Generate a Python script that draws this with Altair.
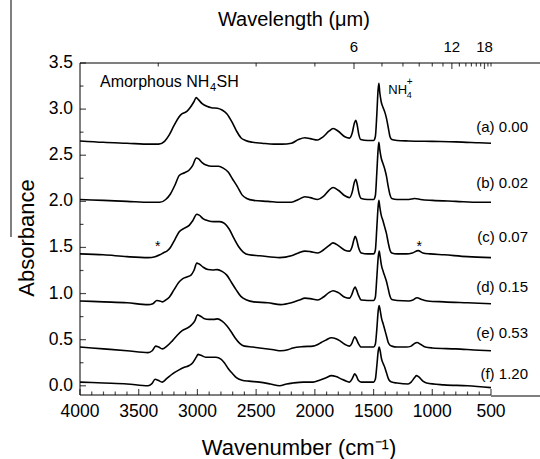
import altair as alt
import pandas as pd

# ---------------------------------------------------------------------------
# Spectra: wavenumber (cm^-1) and absorbance
# ---------------------------------------------------------------------------
wn_a = [4000, 3800, 3600, 3400, 3330, 3280, 3240, 3200, 3160, 3130, 3090, 3060, 3030,
        3010, 2990, 2960, 2920, 2880, 2830, 2790, 2750, 2710, 2670, 2630, 2590, 2530,
        2450, 2350, 2280, 2200, 2140, 2085, 2040, 1975, 1930, 1880, 1845, 1800, 1745,
        1705, 1682, 1665, 1652, 1640, 1625, 1610, 1550, 1500, 1485, 1472, 1462, 1455,
        1447, 1435, 1420, 1405, 1390, 1375, 1360, 1345, 1300, 1200, 1000, 800, 600, 500]
abs_a = [2.655, 2.64, 2.63, 2.62, 2.62, 2.65, 2.72, 2.82, 2.91, 2.95, 2.975, 3.02, 3.08,
         3.125, 3.10, 3.06, 3.03, 3.015, 3.01, 2.99, 2.95, 2.87, 2.77, 2.69, 2.66, 2.64,
         2.63, 2.62, 2.62, 2.63, 2.67, 2.69, 2.68, 2.665, 2.70, 2.76, 2.79, 2.76, 2.70,
         2.685, 2.74, 2.84, 2.88, 2.83, 2.72, 2.67, 2.66, 2.66, 2.70, 2.95, 3.20, 3.28,
         3.18, 3.08, 3.02, 2.97, 2.90, 2.80, 2.70, 2.67, 2.66, 2.655, 2.65, 2.645, 2.635, 2.63]

wn_b = [4000, 3800, 3600, 3400, 3320, 3270, 3230, 3190, 3155, 3110, 3070, 3040, 3010,
        2990, 2960, 2920, 2880, 2820, 2780, 2740, 2700, 2660, 2620, 2580, 2520, 2400,
        2290, 2200, 2140, 2085, 2040, 1975, 1930, 1880, 1845, 1800, 1745, 1705, 1682,
        1665, 1652, 1640, 1625, 1605, 1550, 1500, 1485, 1472, 1462, 1455, 1447, 1435,
        1420, 1405, 1390, 1375, 1360, 1345, 1300, 1200, 1150, 1100, 1000, 800, 600, 500]
abs_b = [2.02, 2.01, 2.00, 1.99, 1.99, 2.02, 2.08, 2.18, 2.28, 2.31, 2.34, 2.39, 2.47,
         2.46, 2.42, 2.39, 2.38, 2.38, 2.36, 2.32, 2.24, 2.16, 2.07, 2.03, 2.01, 2.00,
         1.99, 1.99, 2.02, 2.05, 2.04, 2.02, 2.05, 2.12, 2.15, 2.12, 2.06, 2.04, 2.10,
         2.20, 2.24, 2.19, 2.09, 2.03, 2.02, 2.02, 2.06, 2.32, 2.55, 2.64, 2.56, 2.47,
         2.41, 2.35, 2.27, 2.16, 2.07, 2.03, 2.02, 2.02, 2.03, 2.02, 2.01, 2.00, 1.99, 1.99]

wn_c = [4000, 3800, 3600, 3420, 3360, 3320, 3285, 3260, 3230, 3190, 3155, 3110, 3070,
        3040, 3005, 2985, 2950, 2910, 2860, 2810, 2770, 2730, 2690, 2650, 2610, 2560,
        2470, 2300, 2200, 2140, 2085, 2040, 1975, 1930, 1880, 1845, 1800, 1745, 1705,
        1685, 1668, 1657, 1645, 1628, 1605, 1550, 1500, 1485, 1472, 1462, 1455, 1447,
        1435, 1420, 1405, 1390, 1375, 1360, 1345, 1300, 1220, 1170, 1120, 1080, 1020,
        900, 700, 500]
abs_c = [1.43, 1.42, 1.40, 1.39, 1.40, 1.42, 1.445, 1.46, 1.50, 1.59, 1.67, 1.71, 1.74,
         1.79, 1.86, 1.85, 1.81, 1.79, 1.78, 1.78, 1.76, 1.70, 1.60, 1.51, 1.45, 1.42,
         1.41, 1.39, 1.41, 1.44, 1.46, 1.455, 1.44, 1.47, 1.52, 1.55, 1.52, 1.47, 1.46,
         1.50, 1.58, 1.62, 1.59, 1.50, 1.44, 1.43, 1.43, 1.47, 1.72, 1.93, 2.01, 1.94,
         1.85, 1.79, 1.72, 1.65, 1.55, 1.47, 1.44, 1.43, 1.43, 1.44, 1.465, 1.44, 1.43,
         1.42, 1.40, 1.39]

wn_d = [4000, 3800, 3600, 3420, 3380, 3345, 3320, 3297, 3270, 3240, 3200, 3160, 3127,
        3090, 3055, 3030, 3005, 2985, 2950, 2910, 2870, 2830, 2790, 2750, 2710, 2670,
        2630, 2580, 2520, 2400, 2290, 2200, 2130, 2085, 2040, 1975, 1930, 1880, 1845,
        1800, 1745, 1705, 1685, 1668, 1657, 1645, 1628, 1605, 1550, 1500, 1485, 1472,
        1460, 1452, 1444, 1432, 1418, 1405, 1390, 1375, 1360, 1345, 1300, 1200, 1165,
        1130, 1090, 1040, 900, 700, 500]
abs_d = [0.92, 0.91, 0.90, 0.88, 0.89, 0.925, 0.92, 0.91, 0.93, 0.96, 1.04, 1.12, 1.16,
         1.18, 1.20, 1.25, 1.33, 1.32, 1.285, 1.26, 1.255, 1.26, 1.24, 1.20, 1.12, 1.04,
         0.97, 0.93, 0.91, 0.90, 0.88, 0.90, 0.93, 0.95, 0.945, 0.93, 0.96, 1.01, 1.03,
         1.01, 0.96, 0.95, 0.99, 1.05, 1.07, 1.04, 0.98, 0.93, 0.925, 0.925, 0.96, 1.18,
         1.40, 1.46, 1.40, 1.30, 1.24, 1.19, 1.13, 1.05, 0.97, 0.935, 0.925, 0.92, 0.93,
         0.955, 0.935, 0.92, 0.91, 0.90, 0.89]

wn_e = [4000, 3800, 3600, 3420, 3385, 3355, 3330, 3300, 3260, 3212, 3170, 3127, 3080,
        3050, 3020, 3000, 2980, 2945, 2900, 2860, 2830, 2790, 2750, 2710, 2680, 2640,
        2600, 2530, 2470, 2350, 2290, 2230, 2187, 2100, 2016, 1980, 1945, 1900, 1860,
        1820, 1789, 1745, 1705, 1685, 1670, 1660, 1648, 1630, 1605, 1550, 1500, 1485,
        1472, 1460, 1452, 1444, 1432, 1418, 1405, 1390, 1375, 1360, 1345, 1300, 1220,
        1180, 1150, 1130, 1100, 1060, 1000, 800, 600, 500]
abs_e = [0.42, 0.40, 0.38, 0.36, 0.38, 0.43, 0.42, 0.40, 0.43, 0.49, 0.55, 0.60, 0.63,
         0.66, 0.71, 0.77, 0.76, 0.73, 0.72, 0.72, 0.725, 0.70, 0.65, 0.58, 0.52, 0.46,
         0.43, 0.42, 0.41, 0.39, 0.38, 0.39, 0.41, 0.425, 0.43, 0.445, 0.47, 0.50, 0.52,
         0.51, 0.49, 0.45, 0.43, 0.46, 0.51, 0.53, 0.51, 0.46, 0.42, 0.42, 0.42, 0.45,
         0.62, 0.82, 0.87, 0.82, 0.73, 0.67, 0.61, 0.54, 0.47, 0.44, 0.43, 0.42, 0.42,
         0.43, 0.46, 0.47, 0.45, 0.42, 0.41, 0.40, 0.385, 0.38]

wn_f = [4000, 3800, 3600, 3420, 3390, 3360, 3335, 3300, 3260, 3212, 3160, 3112, 3070,
        3040, 3010, 2995, 2970, 2930, 2880, 2842, 2800, 2771, 2740, 2700, 2671, 2620,
        2560, 2472, 2380, 2300, 2240, 2187, 2100, 2016, 1960, 1900, 1860, 1820, 1770,
        1731, 1705, 1685, 1670, 1661, 1648, 1630, 1605, 1550, 1500, 1485, 1472, 1460,
        1452, 1444, 1432, 1418, 1405, 1390, 1375, 1360, 1345, 1300, 1206, 1180, 1150,
        1134, 1110, 1080, 1049, 900, 700, 500]
abs_f = [0.04, 0.03, 0.02, 0.00, 0.02, 0.07, 0.06, 0.04, 0.08, 0.13, 0.17, 0.20, 0.22,
         0.25, 0.31, 0.34, 0.33, 0.31, 0.31, 0.31, 0.29, 0.25, 0.19, 0.13, 0.09, 0.06,
         0.05, 0.04, 0.02, 0.00, 0.02, 0.03, 0.04, 0.04, 0.06, 0.09, 0.11, 0.10, 0.07,
         0.05, 0.04, 0.07, 0.11, 0.13, 0.11, 0.06, 0.04, 0.04, 0.04, 0.07, 0.22, 0.38,
         0.42, 0.38, 0.29, 0.24, 0.20, 0.14, 0.08, 0.05, 0.04, 0.03, 0.02, 0.04, 0.09,
         0.11, 0.09, 0.05, 0.03, 0.01, 0.00, -0.02]

spectrum_ids = ["a", "b", "c", "d", "e", "f"]
spectrum_labels = ["(a) 0.00", "(b) 0.02", "(c) 0.07", "(d) 0.15", "(e) 0.53", "(f) 1.20"]
label_wn = [185, 185, 185, 185, 185, 185]
label_abs = [2.806, 2.202, 1.617, 1.068, 0.575, 0.127]

# asterisks marking features in spectrum (c)
star_wn = [3338, 1111]
star_abs = [1.46, 1.46]

# axis tick values
x_major = [500, 1000, 1500, 2000, 2500, 3000, 3500, 4000]
x_minor = [v for v in range(500, 4001, 100) if v % 500]
y_major = [0.0, 0.5, 1.0, 1.5, 2.0, 2.5, 3.0, 3.5]
y_minor = [0.25, 0.75, 1.25, 1.75, 2.25, 2.75, 3.25]
um_major = [6, 12, 18]
um_minor = [3, 4, 5, 7, 8, 9, 10, 11, 13, 14, 15, 16, 17, 19, 20]

# axis titles
x_title = "Wavenumber (cm\u207b\u00b9)"
y_title = "Absorbance"
top_title = "Wavelength (\u03bcm)"

# ---------------------------------------------------------------------------
W, H = 411, 332
FONT = "Liberation Sans"
X_MIN, X_MAX = 500, 4000
Y_MIN, Y_MAX = -0.1, 3.5
X_SCALE = alt.Scale(domain=[X_MIN, X_MAX], reverse=True, nice=False, zero=False)
Y_SCALE = alt.Scale(domain=[Y_MIN, Y_MAX], nice=False, zero=False)
MAJOR, MINOR = 6, 3.5


def um_to_wn(um):
    return 10000.0 / um


series = {
    "a": (wn_a, abs_a), "b": (wn_b, abs_b), "c": (wn_c, abs_c),
    "d": (wn_d, abs_d), "e": (wn_e, abs_e), "f": (wn_f, abs_f),
}
rows = []
for sid in spectrum_ids:
    wns, vals = series[sid]
    for i, (w, v) in enumerate(zip(wns, vals)):
        rows.append({"spectrum": sid, "idx": i, "wn": w, "absorbance": v})
spectra = pd.DataFrame(rows)

# every layer shares these scales; the axes are drawn as marks below
X_ENC = alt.X("wn:Q", scale=X_SCALE, axis=None)
Y_ENC = alt.Y("absorbance:Q", scale=Y_SCALE, axis=None)

lines = alt.Chart(spectra).mark_line(
    color="black", strokeWidth=1.6, interpolate="monotone"
).encode(x=X_ENC, y=Y_ENC, detail="spectrum:N", order="idx:Q")


# inward-pointing tick marks: each sits on a plot edge and is shifted inward
def x_ticks(values, edge, size):
    at = Y_MIN if edge == "bottom" else Y_MAX
    df = pd.DataFrame({"wn": [float(v) for v in values], "absorbance": at})
    shift = -size / 2 if edge == "bottom" else size / 2
    return alt.Chart(df).mark_tick(
        color="black", orient="vertical", size=size, thickness=1.2, yOffset=shift
    ).encode(x=X_ENC, y=Y_ENC)


def y_ticks(values, size):
    df = pd.DataFrame({"wn": float(X_MAX), "absorbance": [float(v) for v in values]})
    return alt.Chart(df).mark_tick(
        color="black", orient="horizontal", size=size, thickness=1.2, xOffset=size / 2
    ).encode(x=X_ENC, y=Y_ENC)


ticks = [
    x_ticks(x_major, "bottom", MAJOR),
    x_ticks(x_minor, "bottom", MINOR),
    x_ticks([um_to_wn(u) for u in um_major], "top", MAJOR),
    x_ticks([um_to_wn(u) for u in um_minor], "top", MINOR),
    y_ticks(y_major, MAJOR),
    y_ticks(y_minor, MINOR),
]


def text_layer(df, size, align="left", baseline="alphabetic", dx=0, dy=0, angle=0):
    return alt.Chart(df).mark_text(
        align=align, baseline=baseline, fontSize=size, font=FONT,
        color="black", dx=dx, dy=dy, angle=angle
    ).encode(x=X_ENC, y=Y_ENC, text="text:N")


# axis lines (bottom, left) and top border
frame = alt.Chart(pd.DataFrame({"k": [0]})).mark_rule(color="black", strokeWidth=1)
axis_lines = [
    frame.encode(x=alt.value(0), x2=alt.value(W), y=alt.value(H)),
    frame.encode(x=alt.value(0), y=alt.value(0), y2=alt.value(H)),
    frame.encode(x=alt.value(0), x2=alt.value(W + 49), y=alt.value(0)),
]
# thin frame lines bordering the panel
frame_lines = [
    frame.encode(x=alt.value(-69), y=alt.value(-63), y2=alt.value(174)),
    frame.encode(x=alt.value(W), x2=alt.value(W + 49), y=alt.value(H + 1)),
]

# tick labels
bottom_labels = text_layer(
    pd.DataFrame({"wn": x_major, "absorbance": Y_MIN, "text": [str(v) for v in x_major]}),
    17.5, align="center", baseline="middle", dy=16.5)
left_labels = text_layer(
    pd.DataFrame({"wn": float(X_MAX), "absorbance": y_major,
                  "text": [f"{v:.1f}" for v in y_major]}),
    17.5, align="right", baseline="middle", dx=-7)
top_labels = text_layer(
    pd.DataFrame({"wn": [um_to_wn(u) for u in um_major], "absorbance": Y_MAX,
                  "text": [str(u) for u in um_major]}),
    15, align="center", dy=-11)

# axis titles
titles = [
    text_layer(pd.DataFrame({"wn": [2135.0], "absorbance": [Y_MIN], "text": [x_title]}),
               22, align="center", dy=60),
    text_layer(pd.DataFrame({"wn": [4392.0], "absorbance": [1.603], "text": [y_title]}),
               22, align="center", angle=270),
    text_layer(pd.DataFrame({"wn": [2178.0], "absorbance": [Y_MAX], "text": [top_title]}),
               20, align="center", dy=-37),
]

labels = text_layer(
    pd.DataFrame({"wn": label_wn, "absorbance": label_abs, "text": spectrum_labels}),
    15, align="right", baseline="middle")

stars = text_layer(
    pd.DataFrame({"wn": star_wn, "absorbance": star_abs, "text": ["*", "*"]}),
    14, align="center")


def note(text, wn, ab, size, dx=0, dy=0):
    df = pd.DataFrame({"wn": [wn], "absorbance": [ab], "text": [text]})
    return text_layer(df, size, dx=dx, dy=dy)


# "Amorphous NH4SH" band label and "NH4+" peak label
notes = [
    note("Amorphous NH", 3830, 3.243, 16),
    note("4", 3830, 3.243, 11, dx=110, dy=4),
    note("SH", 3830, 3.243, 16, dx=116.5),
    note("NH", 1375, 3.16, 13),
    note("4", 1375, 3.16, 9, dx=18.5, dy=4),
    note("+", 1375, 3.16, 10, dx=18.5, dy=-9),
]

chart = alt.layer(
    lines, *ticks, *axis_lines, *frame_lines,
    bottom_labels, left_labels, top_labels, *titles,
    labels, stars, *notes,
).properties(
    width=W, height=H,
    autosize=alt.AutoSizeParams(type="none"),
    padding={"left": 80, "top": 63, "right": 49, "bottom": 64},
    background="white",
).configure_view(
    stroke="transparent"
)

chart.save("out.html", embed_options={"renderer": "svg", "actions": False})
